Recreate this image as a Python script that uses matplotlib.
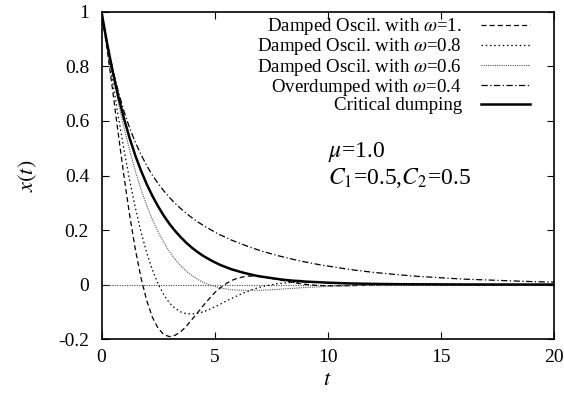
import numpy as np
import matplotlib
matplotlib.use('Agg')
import matplotlib.pyplot as plt

# values
t = [0, 0.25, 0.5, 0.75, 1.0, 1.25, 1.5, 1.75, 2.0, 2.25, 2.5, 2.75, 3.0, 3.25,
     3.5, 3.75, 4.0, 4.25, 4.5, 4.75, 5.0, 5.25, 5.5, 5.75, 6.0, 6.25, 6.5,
     6.75, 7.0, 7.25, 7.5, 7.75, 8.0, 8.25, 8.5, 8.75, 9.0, 9.25, 9.5, 9.75,
     10, 11, 12, 13, 14, 15, 16, 17, 18, 19, 20]

x_w10 = [1.0, 0.862, 0.707, 0.547, 0.393, 0.251, 0.127, 0.023, -0.059, -0.120,
         -0.160, -0.183, -0.191, -0.186, -0.173, -0.153, -0.128, -0.103, -0.077,
         -0.053, -0.030, -0.012, 0.003, 0.015, 0.023, 0.028, 0.031, 0.031, 0.030,
         0.027, 0.023, 0.019, 0.015, 0.011, 0.007, 0.004, 0.001, -0.001, -0.003,
         -0.004, -0.0045, -0.004, -0.0014, 0.0004, 0.0008, 0.0005, 0.0002, 0.0,
         0.0, 0.0, 0.0]

x_w08 = [1.0, 0.872, 0.741, 0.613, 0.492, 0.380, 0.280, 0.192, 0.116, 0.054,
         0.003, -0.037, -0.067, -0.087, -0.100, -0.107, -0.108, -0.105, -0.100,
         -0.092, -0.082, -0.072, -0.061, -0.051, -0.041, -0.032, -0.024, -0.016,
         -0.010, -0.005, -0.001, 0.003, 0.005, 0.007, 0.008, 0.0086, 0.0087,
         0.0085, 0.0081, 0.0074, 0.0067, 0.0034, 0.0009, -0.0004, -0.0007,
         -0.0006, -0.0003, 0.0, 0.0, 0.0, 0.0]

x_w06 = [1.0, 0.879, 0.768, 0.666, 0.573, 0.490, 0.415, 0.349, 0.290, 0.238,
         0.194, 0.155, 0.121, 0.093, 0.069, 0.049, 0.033, 0.019, 0.008, -0.0004,
         -0.007, -0.012, -0.016, -0.019, -0.020, -0.021, -0.021, -0.021, -0.021,
         -0.020, -0.019, -0.018, -0.016, -0.015, -0.014, -0.012, -0.011, -0.010,
         -0.009, -0.008, -0.007, -0.004, -0.002, -0.0006, -0.0001, 0.0001, 0.0,
         0.0, 0.0, 0.0, 0.0]

x_w04 = [1.0, 0.885, 0.788, 0.705, 0.634, 0.573, 0.521, 0.476, 0.436, 0.401,
         0.371, 0.344, 0.320, 0.298, 0.279, 0.261, 0.245, 0.230, 0.217, 0.205,
         0.193, 0.182, 0.173, 0.163, 0.155, 0.147, 0.139, 0.132, 0.125, 0.119,
         0.113, 0.107, 0.102, 0.097, 0.092, 0.087, 0.083, 0.079, 0.075, 0.071,
         0.068, 0.055, 0.045, 0.037, 0.030, 0.025, 0.020, 0.017, 0.014, 0.011,
         0.009]

x_crit = [1.0, 0.883, 0.779, 0.687, 0.607, 0.535, 0.472, 0.417, 0.368, 0.325,
          0.287, 0.253, 0.223, 0.197, 0.174, 0.153, 0.135, 0.119, 0.105, 0.093,
          0.082, 0.072, 0.064, 0.056, 0.050, 0.044, 0.039, 0.034, 0.030, 0.027,
          0.024, 0.021, 0.018, 0.016, 0.014, 0.013, 0.011, 0.010, 0.009, 0.008,
          0.007, 0.004, 0.0025, 0.0015, 0.0009, 0.0006, 0.0003, 0.0002, 0.0001,
          0.0001, 0.0]

labels = [r'Damped Oscil. with $\omega$=1.',
          r'Damped Oscil. with $\omega$=0.8',
          r'Damped Oscil. with $\omega$=0.6',
          r'Overdumped with $\omega$=0.4',
          'Critical dumping']

xticks = [0, 5, 10, 15, 20]
yticks = [-0.2, 0, 0.2, 0.4, 0.6, 0.8, 1.0]
ytick_labels = ['-0.2', '0', '0.2', '0.4', '0.6', '0.8', '1']

plt.rcParams['font.family'] = ['Liberation Serif', 'DejaVu Serif']
plt.rcParams['mathtext.fontset'] = 'stix'
plt.rcParams['font.size'] = 14

fig = plt.figure(figsize=(5.64, 3.98), dpi=100)
ax = fig.add_axes([0.180, 0.148, 0.802, 0.822])

# zero line
ax.axhline(0, color='#444444', lw=0.8, ls=(0, (1, 1.2)))

ax.plot(t, x_w10, color='black', lw=0.9, ls=(0, (4, 2.5)), label=labels[0])
ax.plot(t, x_w08, color='black', lw=0.9, ls=(0, (1.2, 2.2)), label=labels[1])
ax.plot(t, x_w06, color='#555555', lw=0.8, ls=(0, (1, 1)), label=labels[2])
ax.plot(t, x_w04, color='black', lw=0.9, ls=(0, (5, 2, 1, 2)), label=labels[3])
ax.plot(t, x_crit, color='black', lw=1.8, label=labels[4])

ax.set_xlim(0, 20)
ax.set_ylim(-0.2, 1.0)
ax.set_xticks(xticks)
ax.set_xticklabels([str(v) for v in xticks])
ax.set_yticks(yticks)
ax.set_yticklabels(ytick_labels)
ax.tick_params(direction='in', length=5, width=0.8, top=True, right=True)
ax.tick_params(axis='x', pad=7)
ax.tick_params(axis='y', pad=9)
for sp in ax.spines.values():
    sp.set_linewidth(1.2)

ax.set_xlabel(r'$t$', fontsize=16, labelpad=4)
ax.set_ylabel(r'$x(t)$', fontsize=16, labelpad=14)

ax.text(10.0, 0.486, r'$\mu$=1.0', fontsize=17, va='center', ha='left')
ax.text(10.0, 0.39, r'$C_1$=0.5,$C_2$=0.5', fontsize=17, va='center', ha='left')

leg = ax.legend(loc='upper right', bbox_to_anchor=(0.947, 0.987),
                frameon=False, markerfirst=False,
                handlelength=2.6, handletextpad=1.0, labelspacing=-0.04,
                borderpad=0.0, borderaxespad=0.0, fontsize=13.6)

plt.savefig('out.png', dpi=100)
